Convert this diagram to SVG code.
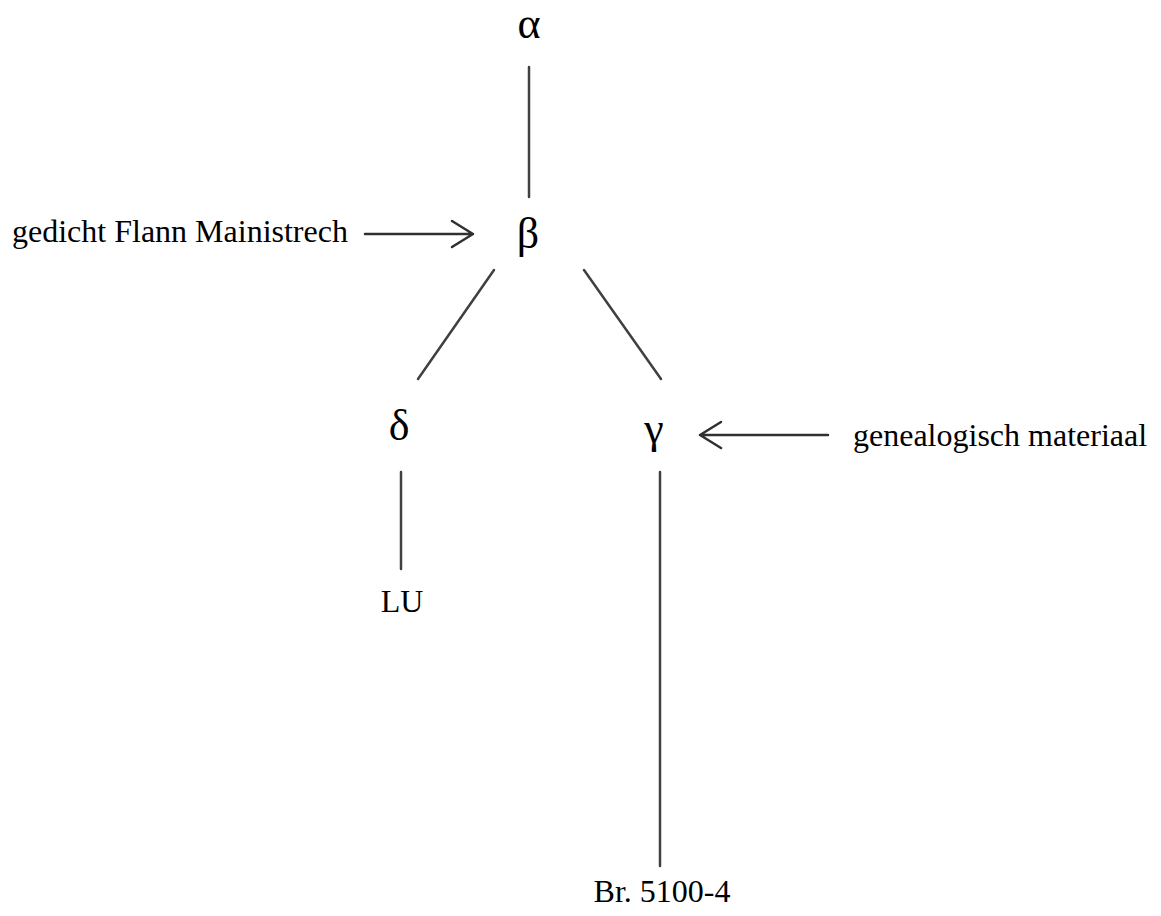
<svg xmlns="http://www.w3.org/2000/svg" width="1161" height="916" viewBox="0 0 1161 916">
<style>
.t{font-family:"Liberation Serif","Times New Roman",serif;font-size:32px;fill:#000}
.g{font-family:"Liberation Serif","Times New Roman",serif;font-size:44px;fill:#000;text-anchor:middle}
.l{stroke:#404040;stroke-width:2.5;fill:none;stroke-linecap:round}
.a{stroke:#303030;stroke-width:2.5;fill:none;stroke-linecap:round;stroke-linejoin:round}
</style>
<rect width="1161" height="916" fill="#fff"/>
<g id="connectors">
<line class="l" x1="529" y1="67" x2="529" y2="197"/>
<line class="l" x1="494" y1="270" x2="418" y2="379"/>
<line class="l" x1="584" y1="270" x2="661" y2="379"/>
<line class="l" x1="401" y1="472" x2="401" y2="569"/>
<line class="l" x1="660" y1="472" x2="660" y2="866"/>
<path class="a" d="M365 234H473M452 221L473 234L452 247"/>
<path class="a" d="M828 435H700M721 422L700 435L721 448"/>
</g>
<g id="alpha"><text class="g" x="529" y="38">α</text></g>
<g id="beta"><text class="g" x="528" y="248">β</text></g>
<g id="delta"><text class="g" x="399" y="440">δ</text></g>
<g id="gamma"><text class="g" x="654" y="443">γ</text></g>
<g id="lu"><text class="t" x="402" y="612" text-anchor="middle">LU</text></g>
<g id="br"><text class="t" x="662" y="902" text-anchor="middle">Br. 5100-4</text></g>
<g id="gedicht"><text class="t" x="12" y="242">gedicht Flann Mainistrech</text></g>
<g id="genealogisch"><text class="t" x="853" y="446">genealogisch materiaal</text></g>
</svg>
